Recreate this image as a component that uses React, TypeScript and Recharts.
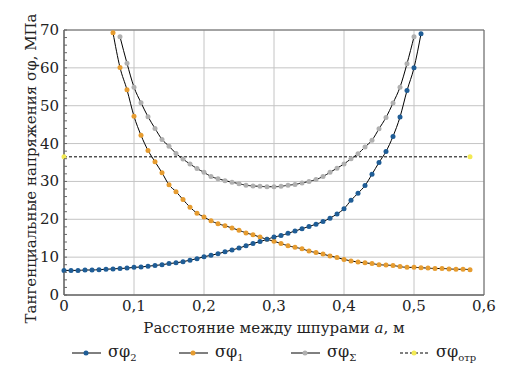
import React from 'react';
import {
  LineChart,
  Line,
  XAxis,
  YAxis,
  CartesianGrid,
  Legend,
  ReferenceArea,
  Label,
} from 'recharts';

// distance between holes a, m
const distances = [
  0, 0.01, 0.02, 0.03, 0.04, 0.05, 0.06, 0.07, 0.08, 0.09,
  0.1, 0.11, 0.12, 0.13, 0.14, 0.15, 0.16, 0.17, 0.18, 0.19,
  0.2, 0.21, 0.22, 0.23, 0.24, 0.25, 0.26, 0.27, 0.28, 0.29,
  0.3, 0.31, 0.32, 0.33, 0.34, 0.35, 0.36, 0.37, 0.38, 0.39,
  0.4, 0.41, 0.42, 0.43, 0.44, 0.45, 0.46, 0.47, 0.48, 0.49,
  0.5, 0.51, 0.52, 0.53, 0.54, 0.55, 0.56, 0.57, 0.58,
];

// σφ2, MPa
const sigma2 = [
  6.5, 6.5, 6.5, 6.6, 6.6, 6.7, 6.8, 6.9, 7.0, 7.1,
  7.3, 7.4, 7.6, 7.8, 8.0, 8.3, 8.5, 8.8, 9.2, 9.6,
  10.1, 10.5, 10.9, 11.4, 11.9, 12.4, 13.0, 13.6, 14.1, 14.7,
  15.3, 15.7, 16.3, 16.9, 17.5, 18.1, 18.7, 19.4, 20.3, 21.4,
  22.8, 25.0, 26.9, 28.9, 31.9, 35.0, 37.9, 41.9, 47.0, 54.0,
  60.0, 69.0, null, null, null, null, null, null, null,
];

// σφ1, MPa
const sigma1 = [
  null, null, null, null, null, null, null, 69.3, 60.1, 54.2,
  47.2, 42.2, 38.2, 35.2, 32.3, 29.1, 27.3, 25.2, 23.2, 21.6,
  20.6, 19.6, 18.8, 18.3, 17.7, 17.1, 16.4, 15.9, 15.3, 14.7,
  14.2, 13.6, 13.0, 12.6, 12.2, 11.6, 11.2, 10.8, 10.3, 9.9,
  9.4, 9.0, 8.7, 8.5, 8.3, 8.0, 7.9, 7.8, 7.5, 7.3,
  7.3, 7.2, 7.1, 7.0, 7.0, 6.9, 6.8, 6.8, 6.7,
];

// σφΣ, MPa
const sigmaSum = [
  null, null, null, null, null, null, null, null, 68.2, 61.2,
  54.9, 50.8, 47.1, 44.0, 41.1, 39.3, 37.4, 35.9, 34.6, 33.4,
  32.4, 31.3, 30.7, 30.2, 29.8, 29.4, 29.0, 28.8, 28.7, 28.6,
  28.6, 28.7, 29.0, 29.2, 29.6, 30.0, 30.5, 31.3, 32.4, 33.5,
  34.6, 36.0, 37.3, 39.1, 40.9, 43.9, 46.9, 50.7, 54.9, 61.1,
  68.2, null, null, null, null, null, null, null, null,
];

// σφотр, MPa (only end points)
const sigmaOtrValue = 36.5;
const sigmaOtrAt = [0, 0.58];

const xTicks = [0, 0.1, 0.2, 0.3, 0.4, 0.5, 0.6];
const yTicks = [0, 10, 20, 30, 40, 50, 60, 70];
const yMinorTicks = [
  0, 2, 4, 6, 8, 10, 12, 14, 16, 18, 20, 22, 24, 26, 28, 30, 32, 34, 36,
  38, 40, 42, 44, 46, 48, 50, 52, 54, 56, 58, 60, 62, 64, 66, 68, 70,
];

const COLORS = {
  s2: '#1f5d96',
  s1: '#e69c30',
  sum: '#b0b0b0',
  otr: '#f3ea55',
};

const FONT = '"DejaVu Serif", "Liberation Serif", serif';
const DOT_R = 2.5;

const data = distances.map((a, i) => ({
  a,
  s2: sigma2[i],
  s1: sigma1[i],
  sum: sigmaSum[i],
  otr: sigmaOtrAt.includes(a) ? sigmaOtrValue : null,
}));

const legendItems = [
  { key: 's2', color: COLORS.s2, sub: '2', dashed: false, left: 72 },
  { key: 's1', color: COLORS.s1, sub: '1', dashed: false, left: 179 },
  { key: 'sum', color: COLORS.sum, sub: 'Σ', dashed: false, left: 291 },
  { key: 'otr', color: COLORS.otr, sub: 'отр', dashed: true, left: 400 },
];

const renderLegend = () => (
  <div style={{ position: 'relative', height: 30, fontFamily: FONT }}>
    {legendItems.map((it) => (
      <div
        key={it.key}
        style={{
          position: 'absolute',
          left: it.left,
          top: 5,
          display: 'flex',
          alignItems: 'center',
          whiteSpace: 'nowrap',
        }}
      >
        <svg width={30} height={14}>
          <line
            x1={0}
            y1={7}
            x2={29}
            y2={7}
            stroke="#000"
            strokeWidth={1}
            strokeDasharray={it.dashed ? '3 2' : undefined}
          />
          <circle cx={14} cy={7} r={DOT_R} fill={it.color} />
        </svg>
        <span style={{ marginLeft: 6, fontSize: 16, color: '#222' }}>
          σφ<sub style={{ fontSize: 10 }}>{it.sub}</sub>
        </span>
      </div>
    ))}
  </div>
);

const fmt = (v: number) => String(v).replace('.', ',');

// y tick: short inner tick every 2 MPa, label every 10 MPa
const YTick = ({ x, y, payload }: any) => {
  const major = payload.value % 10 === 0;
  return (
    <g>
      <line x1={x + 5} y1={y} x2={x + 8} y2={y} stroke="#666" strokeWidth={1} />
      {major && (
        <text
          x={x}
          y={y}
          textAnchor="end"
          dominantBaseline="central"
          fill="#222"
          fontSize={15}
          fontFamily={FONT}
        >
          {payload.value}
        </text>
      )}
    </g>
  );
};

export default function App() {
  return (
    <div style={{ position: 'fixed', left: 0, top: 0, background: '#fff' }}>
      <LineChart
        width={512}
        height={367}
        data={data}
        margin={{ top: 30, right: 28, bottom: 0, left: 0 }}
      >
        <CartesianGrid
          stroke="#c4c4c4"
          strokeWidth={1}
          horizontalValues={yTicks}
          verticalValues={xTicks}
        />
        <XAxis
          dataKey="a"
          type="number"
          domain={[0, 0.6]}
          ticks={xTicks}
          tickFormatter={fmt}
          tickLine={false}
          tickSize={0}
          tickMargin={5}
          axisLine={{ stroke: '#666' }}
          height={42}
          tick={{ fill: '#222', fontSize: 15, fontFamily: FONT }}
        >
          <Label
            content={({ viewBox }: any) => (
              <text
                x={viewBox.x + viewBox.width / 2}
                y={333}
                textAnchor="middle"
                fill="#222"
                fontSize={15}
                fontFamily={FONT}
              >
                Расстояние между шпурами <tspan fontStyle="italic">a</tspan>, м
              </text>
            )}
          />
        </XAxis>
        <YAxis
          type="number"
          domain={[0, 70]}
          ticks={yMinorTicks}
          interval={0}
          tickLine={false}
          tickSize={0}
          tickMargin={5}
          width={64}
          axisLine={{ stroke: '#666' }}
          allowDataOverflow
          tick={<YTick />}
        >
          <Label
            content={({ viewBox }: any) => {
              const cx = 31;
              const cy = viewBox.y + viewBox.height / 2 + 6;
              return (
                <text
                  x={cx}
                  y={cy}
                  transform={`rotate(-90 ${cx} ${cy})`}
                  textAnchor="middle"
                  dominantBaseline="central"
                  fill="#222"
                  fontSize={15}
                  fontFamily={FONT}
                >
                  Тангенциальные напряжения σφ, МПа
                </text>
              );
            }}
          />
        </YAxis>
        <ReferenceArea
          x1={0}
          x2={0.6}
          y1={0}
          y2={70}
          fill="none"
          stroke="#666"
          strokeWidth={1}
          ifOverflow="visible"
        />
        <Line
          dataKey="otr"
          type="linear"
          stroke="#000"
          strokeWidth={1}
          strokeDasharray="3 2"
          connectNulls
          dot={{ r: DOT_R, fill: COLORS.otr, stroke: COLORS.otr, strokeWidth: 0 }}
          activeDot={false}
          isAnimationActive={false}
        />
        <Line
          dataKey="sum"
          type="monotone"
          stroke="#000"
          strokeWidth={1}
          dot={{ r: DOT_R, fill: COLORS.sum, stroke: COLORS.sum, strokeWidth: 0 }}
          activeDot={false}
          isAnimationActive={false}
        />
        <Line
          dataKey="s1"
          type="monotone"
          stroke="#000"
          strokeWidth={1}
          dot={{ r: DOT_R, fill: COLORS.s1, stroke: COLORS.s1, strokeWidth: 0 }}
          activeDot={false}
          isAnimationActive={false}
        />
        <Line
          dataKey="s2"
          type="monotone"
          stroke="#000"
          strokeWidth={1}
          dot={{ r: DOT_R, fill: COLORS.s2, stroke: COLORS.s2, strokeWidth: 0 }}
          activeDot={false}
          isAnimationActive={false}
        />
        <Legend verticalAlign="bottom" content={renderLegend} />
      </LineChart>
    </div>
  );
}
